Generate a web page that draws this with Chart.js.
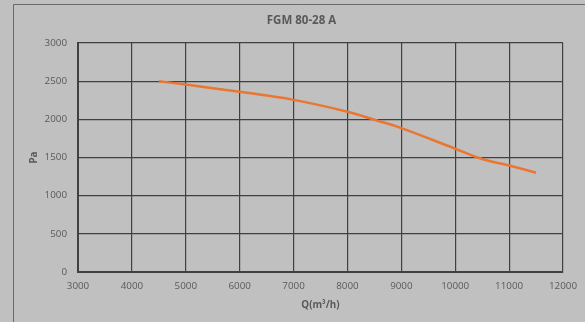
<!DOCTYPE html>
<html>
<head>
<meta charset="utf-8">
<script src="https://cdn.jsdelivr.net/npm/chart.js@4.4.1/dist/chart.umd.min.js"></script>
<style>
  html, body { margin: 0; padding: 0; background: #c0c0c0; }
  #wrap { width: 585px; height: 322px; }
</style>
</head>
<body>
<div id="wrap"><canvas id="fanChart" width="585" height="322"></canvas></div>
<script>
// fan curve FGM 80-28 A
var chartTitle = 'FGM 80-28 A';
var flowQ = [4500, 5000, 6000, 7000, 8000, 8500, 9000, 10000, 10500, 11000, 11500];
var pressurePa = [2500, 2455, 2360, 2255, 2100, 1995, 1885, 1615, 1480, 1395, 1300];
var xTicks = [3000, 4000, 5000, 6000, 7000, 8000, 9000, 10000, 11000, 12000];
var yTicks = [0, 500, 1000, 1500, 2000, 2500, 3000];

var textGray = '#595959';
var gridDark = '#404040';

// gray background, frame lines and the chart title
var framePlugin = {
    id: 'frame',
    beforeDraw: function(chart) {
        var c = chart.ctx;
        c.save();
        c.fillStyle = '#c0c0c0';
        c.fillRect(0, 0, chart.width, chart.height);
        c.strokeStyle = '#6a6a6a';
        c.lineWidth = 1;
        c.beginPath();
        c.moveTo(13.5, chart.height + 5);
        c.lineTo(13.5, 4.5);
        c.lineTo(chart.width + 5, 4.5);
        c.stroke();
        c.restore();
    },
    afterDraw: function(chart) {
        var c = chart.ctx;
        c.save();
        c.fillStyle = textGray;
        c.font = 'bold 11.5px "Open Sans"';
        c.textAlign = 'center';
        c.textBaseline = 'middle';
        c.fillText(chartTitle, 301.5, 21);
        c.restore();
    }
};

new Chart(document.getElementById('fanChart').getContext('2d'), {
    type: 'line',
    data: {
        datasets: [{
            label: chartTitle,
            data: flowQ.map(function(q, i) { return { x: q, y: pressurePa[i] }; }),
            borderColor: '#ea7631',
            borderWidth: 2.5,
            pointRadius: 0,
            fill: false,
            tension: 0.4
        }]
    },
    options: {
        responsive: false,
        animation: false,
        layout: { padding: { left: 28, top: 43, right: 21, bottom: 11 } },
        plugins: {
            legend: { display: false },
            tooltip: { enabled: false }
        },
        scales: {
            x: {
                type: 'linear',
                min: 3000,
                max: 12000,
                afterBuildTicks: function(s) { s.ticks = xTicks.map(function(v) { return { value: v }; }); },
                afterFit: function(s) { s.height = 39; },
                ticks: {
                    color: textGray,
                    font: { family: 'Open Sans', size: 9.8 },
                    padding: 8,
                    maxRotation: 0,
                    callback: function(v) { return String(v); }
                },
                grid: { color: gridDark, lineWidth: 1.2, drawTicks: false },
                border: { display: true, color: gridDark, width: 2 },
                title: {
                    display: true,
                    text: 'Q(m³/h)',
                    color: textGray,
                    font: { family: 'Open Sans', size: 9.8, weight: 'bold' },
                    padding: 0
                }
            },
            y: {
                min: 0,
                max: 3000,
                afterBuildTicks: function(s) { s.ticks = yTicks.map(function(v) { return { value: v }; }); },
                afterFit: function(s) { s.width = 50; },
                ticks: {
                    color: textGray,
                    font: { family: 'Open Sans', size: 9.8 },
                    padding: 11,
                    callback: function(v) { return String(v); }
                },
                grid: { color: gridDark, lineWidth: 1.2, drawTicks: false },
                border: { display: true, color: gridDark, width: 2 },
                title: {
                    display: true,
                    text: 'Pa',
                    color: textGray,
                    font: { family: 'Open Sans', size: 9.8, weight: 'bold' },
                    padding: 0
                }
            }
        }
    },
    plugins: [framePlugin]
});
</script>
</body>
</html>
